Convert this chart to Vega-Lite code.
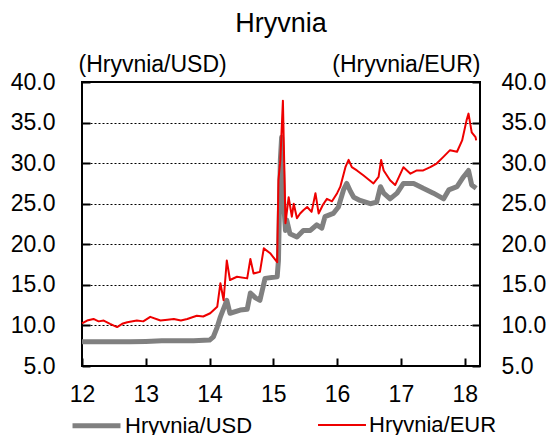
{
  "$schema": "https://vega.github.io/schema/vega-lite/v6.json",
  "autosize": "none",
  "width": 398,
  "height": 284,
  "padding": {"left": 82, "top": 82, "right": 70, "bottom": 69},
  "title": {"text": "Hryvnia", "fontSize": 27, "font": "Liberation Sans", "fontWeight": "normal", "color": "black", "anchor": "middle", "offset": 15},
  "config": {
    "font": "Liberation Sans",
    "view": {"stroke": "black", "strokeWidth": 2},
    "axis": {"labelColor": "black", "labelFont": "Liberation Sans", "titleFont": "Liberation Sans", "titleColor": "black", "titleFontWeight": "normal", "ticks": true, "tickColor": "black", "tickOpacity": 1, "tickWidth": 2, "domain": false, "labelFlush": false}
  },
  "data": {"values": [
    {"series": "Hryvnia/USD", "t": 12.0, "v": 8.0},
    {"series": "Hryvnia/USD", "t": 12.25, "v": 7.99},
    {"series": "Hryvnia/USD", "t": 12.5, "v": 7.99},
    {"series": "Hryvnia/USD", "t": 12.75, "v": 8.0},
    {"series": "Hryvnia/USD", "t": 13.0, "v": 8.03},
    {"series": "Hryvnia/USD", "t": 13.25, "v": 8.1},
    {"series": "Hryvnia/USD", "t": 13.5, "v": 8.1},
    {"series": "Hryvnia/USD", "t": 13.75, "v": 8.1},
    {"series": "Hryvnia/USD", "t": 14.0, "v": 8.2},
    {"series": "Hryvnia/USD", "t": 14.06, "v": 8.6},
    {"series": "Hryvnia/USD", "t": 14.12, "v": 9.8},
    {"series": "Hryvnia/USD", "t": 14.17, "v": 11.06},
    {"series": "Hryvnia/USD", "t": 14.27, "v": 13.1},
    {"series": "Hryvnia/USD", "t": 14.32, "v": 11.5},
    {"series": "Hryvnia/USD", "t": 14.48, "v": 11.9},
    {"series": "Hryvnia/USD", "t": 14.59, "v": 12.0},
    {"series": "Hryvnia/USD", "t": 14.64, "v": 14.0},
    {"series": "Hryvnia/USD", "t": 14.72, "v": 13.4},
    {"series": "Hryvnia/USD", "t": 14.79, "v": 13.1},
    {"series": "Hryvnia/USD", "t": 14.87, "v": 15.8},
    {"series": "Hryvnia/USD", "t": 15.06, "v": 16.0},
    {"series": "Hryvnia/USD", "t": 15.08, "v": 18.0},
    {"series": "Hryvnia/USD", "t": 15.11, "v": 30.4},
    {"series": "Hryvnia/USD", "t": 15.13, "v": 33.2},
    {"series": "Hryvnia/USD", "t": 15.16, "v": 25.4},
    {"series": "Hryvnia/USD", "t": 15.19, "v": 21.7},
    {"series": "Hryvnia/USD", "t": 15.21, "v": 23.0},
    {"series": "Hryvnia/USD", "t": 15.26, "v": 21.3},
    {"series": "Hryvnia/USD", "t": 15.37, "v": 20.9},
    {"series": "Hryvnia/USD", "t": 15.47, "v": 21.7},
    {"series": "Hryvnia/USD", "t": 15.58, "v": 21.7},
    {"series": "Hryvnia/USD", "t": 15.68, "v": 22.4},
    {"series": "Hryvnia/USD", "t": 15.76, "v": 22.0},
    {"series": "Hryvnia/USD", "t": 15.81, "v": 23.4},
    {"series": "Hryvnia/USD", "t": 15.94, "v": 23.8},
    {"series": "Hryvnia/USD", "t": 16.02, "v": 24.6},
    {"series": "Hryvnia/USD", "t": 16.1, "v": 26.7},
    {"series": "Hryvnia/USD", "t": 16.15, "v": 27.5},
    {"series": "Hryvnia/USD", "t": 16.21, "v": 26.5},
    {"series": "Hryvnia/USD", "t": 16.26, "v": 25.8},
    {"series": "Hryvnia/USD", "t": 16.36, "v": 25.4},
    {"series": "Hryvnia/USD", "t": 16.52, "v": 25.0},
    {"series": "Hryvnia/USD", "t": 16.62, "v": 25.2},
    {"series": "Hryvnia/USD", "t": 16.68, "v": 27.1},
    {"series": "Hryvnia/USD", "t": 16.73, "v": 26.3},
    {"series": "Hryvnia/USD", "t": 16.83, "v": 25.6},
    {"series": "Hryvnia/USD", "t": 16.94, "v": 26.3},
    {"series": "Hryvnia/USD", "t": 17.04, "v": 27.5},
    {"series": "Hryvnia/USD", "t": 17.2, "v": 27.5},
    {"series": "Hryvnia/USD", "t": 17.35, "v": 26.9},
    {"series": "Hryvnia/USD", "t": 17.51, "v": 26.3},
    {"series": "Hryvnia/USD", "t": 17.67, "v": 25.6},
    {"series": "Hryvnia/USD", "t": 17.75, "v": 26.7},
    {"series": "Hryvnia/USD", "t": 17.88, "v": 27.1},
    {"series": "Hryvnia/USD", "t": 17.98, "v": 28.3},
    {"series": "Hryvnia/USD", "t": 18.06, "v": 29.1},
    {"series": "Hryvnia/USD", "t": 18.11, "v": 27.3},
    {"series": "Hryvnia/USD", "t": 18.18, "v": 26.9},
    {"series": "Hryvnia/EUR", "t": 12.0, "v": 10.25},
    {"series": "Hryvnia/EUR", "t": 12.08, "v": 10.6},
    {"series": "Hryvnia/EUR", "t": 12.18, "v": 10.8},
    {"series": "Hryvnia/EUR", "t": 12.26, "v": 10.5},
    {"series": "Hryvnia/EUR", "t": 12.34, "v": 10.6},
    {"series": "Hryvnia/EUR", "t": 12.44, "v": 10.2},
    {"series": "Hryvnia/EUR", "t": 12.55, "v": 9.8},
    {"series": "Hryvnia/EUR", "t": 12.63, "v": 10.2},
    {"series": "Hryvnia/EUR", "t": 12.71, "v": 10.4},
    {"series": "Hryvnia/EUR", "t": 12.86, "v": 10.6},
    {"series": "Hryvnia/EUR", "t": 12.96, "v": 10.5},
    {"series": "Hryvnia/EUR", "t": 13.07, "v": 11.06},
    {"series": "Hryvnia/EUR", "t": 13.23, "v": 10.6},
    {"series": "Hryvnia/EUR", "t": 13.34, "v": 10.7},
    {"series": "Hryvnia/EUR", "t": 13.44, "v": 10.8},
    {"series": "Hryvnia/EUR", "t": 13.55, "v": 10.6},
    {"series": "Hryvnia/EUR", "t": 13.65, "v": 10.8},
    {"series": "Hryvnia/EUR", "t": 13.8, "v": 11.2},
    {"series": "Hryvnia/EUR", "t": 13.9, "v": 11.1},
    {"series": "Hryvnia/EUR", "t": 14.01, "v": 11.5},
    {"series": "Hryvnia/EUR", "t": 14.12, "v": 12.3},
    {"series": "Hryvnia/EUR", "t": 14.17, "v": 15.2},
    {"series": "Hryvnia/EUR", "t": 14.22, "v": 13.1},
    {"series": "Hryvnia/EUR", "t": 14.27, "v": 18.0},
    {"series": "Hryvnia/EUR", "t": 14.32, "v": 15.6},
    {"series": "Hryvnia/EUR", "t": 14.43, "v": 16.0},
    {"series": "Hryvnia/EUR", "t": 14.59, "v": 15.8},
    {"series": "Hryvnia/EUR", "t": 14.64, "v": 18.2},
    {"series": "Hryvnia/EUR", "t": 14.69, "v": 16.4},
    {"series": "Hryvnia/EUR", "t": 14.79, "v": 16.6},
    {"series": "Hryvnia/EUR", "t": 14.85, "v": 19.5},
    {"series": "Hryvnia/EUR", "t": 14.95, "v": 18.9},
    {"series": "Hryvnia/EUR", "t": 15.06, "v": 17.8},
    {"series": "Hryvnia/EUR", "t": 15.08, "v": 27.9},
    {"series": "Hryvnia/EUR", "t": 15.11, "v": 30.4},
    {"series": "Hryvnia/EUR", "t": 15.15, "v": 37.7},
    {"series": "Hryvnia/EUR", "t": 15.19, "v": 22.6},
    {"series": "Hryvnia/EUR", "t": 15.24, "v": 25.8},
    {"series": "Hryvnia/EUR", "t": 15.29, "v": 23.4},
    {"series": "Hryvnia/EUR", "t": 15.32, "v": 25.0},
    {"series": "Hryvnia/EUR", "t": 15.37, "v": 23.2},
    {"series": "Hryvnia/EUR", "t": 15.42, "v": 23.8},
    {"series": "Hryvnia/EUR", "t": 15.47, "v": 24.2},
    {"series": "Hryvnia/EUR", "t": 15.53, "v": 24.6},
    {"series": "Hryvnia/EUR", "t": 15.6, "v": 24.0},
    {"series": "Hryvnia/EUR", "t": 15.66, "v": 26.3},
    {"series": "Hryvnia/EUR", "t": 15.71, "v": 23.8},
    {"series": "Hryvnia/EUR", "t": 15.78, "v": 24.9},
    {"series": "Hryvnia/EUR", "t": 15.84, "v": 25.6},
    {"series": "Hryvnia/EUR", "t": 15.92, "v": 25.3},
    {"series": "Hryvnia/EUR", "t": 16.0, "v": 26.3},
    {"series": "Hryvnia/EUR", "t": 16.05, "v": 27.1},
    {"series": "Hryvnia/EUR", "t": 16.13, "v": 29.5},
    {"series": "Hryvnia/EUR", "t": 16.18, "v": 30.4},
    {"series": "Hryvnia/EUR", "t": 16.23, "v": 29.5},
    {"series": "Hryvnia/EUR", "t": 16.31, "v": 29.1},
    {"series": "Hryvnia/EUR", "t": 16.41, "v": 28.5},
    {"series": "Hryvnia/EUR", "t": 16.57, "v": 27.5},
    {"series": "Hryvnia/EUR", "t": 16.65, "v": 28.3},
    {"series": "Hryvnia/EUR", "t": 16.69, "v": 30.4},
    {"series": "Hryvnia/EUR", "t": 16.73, "v": 29.1},
    {"series": "Hryvnia/EUR", "t": 16.83, "v": 27.9},
    {"series": "Hryvnia/EUR", "t": 16.91, "v": 27.3},
    {"series": "Hryvnia/EUR", "t": 17.04, "v": 29.5},
    {"series": "Hryvnia/EUR", "t": 17.15, "v": 28.7},
    {"series": "Hryvnia/EUR", "t": 17.25, "v": 29.1},
    {"series": "Hryvnia/EUR", "t": 17.35, "v": 29.1},
    {"series": "Hryvnia/EUR", "t": 17.46, "v": 29.5},
    {"series": "Hryvnia/EUR", "t": 17.56, "v": 29.95},
    {"series": "Hryvnia/EUR", "t": 17.67, "v": 30.8},
    {"series": "Hryvnia/EUR", "t": 17.77, "v": 31.6},
    {"series": "Hryvnia/EUR", "t": 17.88, "v": 31.4},
    {"series": "Hryvnia/EUR", "t": 17.96, "v": 32.8},
    {"series": "Hryvnia/EUR", "t": 18.03, "v": 35.3},
    {"series": "Hryvnia/EUR", "t": 18.06, "v": 36.1},
    {"series": "Hryvnia/EUR", "t": 18.11, "v": 33.8},
    {"series": "Hryvnia/EUR", "t": 18.17, "v": 33.2},
    {"series": "Hryvnia/EUR", "t": 18.18, "v": 32.8}
  ]},
  "encoding": {
    "x": {"field": "t", "type": "quantitative", "scale": {"domain": [12, 18.24], "nice": false, "zero": false},
      "axis": {"values": [12, 13, 14, 15, 16, 17, 18], "format": "d", "title": null, "grid": false, "ticks": true, "offset": -8, "tickSize": 8, "tickWidth": 2, "tickColor": "black", "labelPadding": 17, "labelFontSize": 23}},
    "color": {"field": "series", "type": "nominal",
      "scale": {"domain": ["Hryvnia/USD", "Hryvnia/EUR"], "range": ["#808080", "#ee0000"]},
      "legend": {"orient": "none", "legendX": -12, "legendY": 317, "direction": "horizontal", "title": null, "symbolType": "stroke", "symbolSize": 2300, "labelFontSize": 22, "labelColor": "black", "labelFont": "Liberation Sans", "columnPadding": 61, "labelOffset": 2, "labelLimit": 300}},
    "strokeWidth": {"field": "series", "type": "nominal",
      "scale": {"type": "ordinal", "domain": ["Hryvnia/USD", "Hryvnia/EUR"], "range": [5, 2]},
      "legend": {"orient": "none", "legendX": -12, "legendY": 317, "direction": "horizontal", "title": null, "symbolType": "stroke", "symbolSize": 2300, "labelFontSize": 22, "labelColor": "black", "labelFont": "Liberation Sans", "columnPadding": 61, "labelOffset": 2, "labelLimit": 300}}
  },
  "layer": [
    {
      "transform": [{"filter": "datum.series == 'Hryvnia/USD'"}],
      "mark": {"type": "line", "strokeJoin": "round"},
      "encoding": {
        "y": {"field": "v", "type": "quantitative", "scale": {"domain": [5, 40], "nice": false, "zero": false},
          "axis": {"orient": "left", "values": [5, 10, 15, 20, 25, 30, 35, 40], "format": ".1f", "grid": true, "gridColor": "black", "gridDash": [2, 2], "gridWidth": 1, "ticks": true, "offset": -8, "tickSize": 8, "tickColor": "black", "labelPadding": 27, "labelFontSize": 23,
            "title": "(Hryvnia/USD)", "titleAngle": 0, "titleAlign": "left", "titleBaseline": "alphabetic", "titleX": -12, "titleY": -11, "titleFontSize": 23}}
      }
    },
    {
      "transform": [{"filter": "datum.series == 'Hryvnia/EUR'"}],
      "mark": {"type": "line", "strokeJoin": "round"},
      "encoding": {
        "y": {"field": "v", "type": "quantitative", "scale": {"domain": [5, 40], "nice": false, "zero": false},
          "axis": {"orient": "right", "values": [5, 10, 15, 20, 25, 30, 35, 40], "format": ".1f", "grid": false, "ticks": true, "offset": -8, "tickSize": 8, "tickColor": "black", "labelPadding": 21, "labelFontSize": 23,
            "title": "(Hryvnia/EUR)", "titleAngle": 0, "titleAlign": "right", "titleBaseline": "alphabetic", "titleX": 8, "titleY": -11, "titleFontSize": 23}}
      }
    }
  ],
  "resolve": {"scale": {"y": "independent"}}
}
